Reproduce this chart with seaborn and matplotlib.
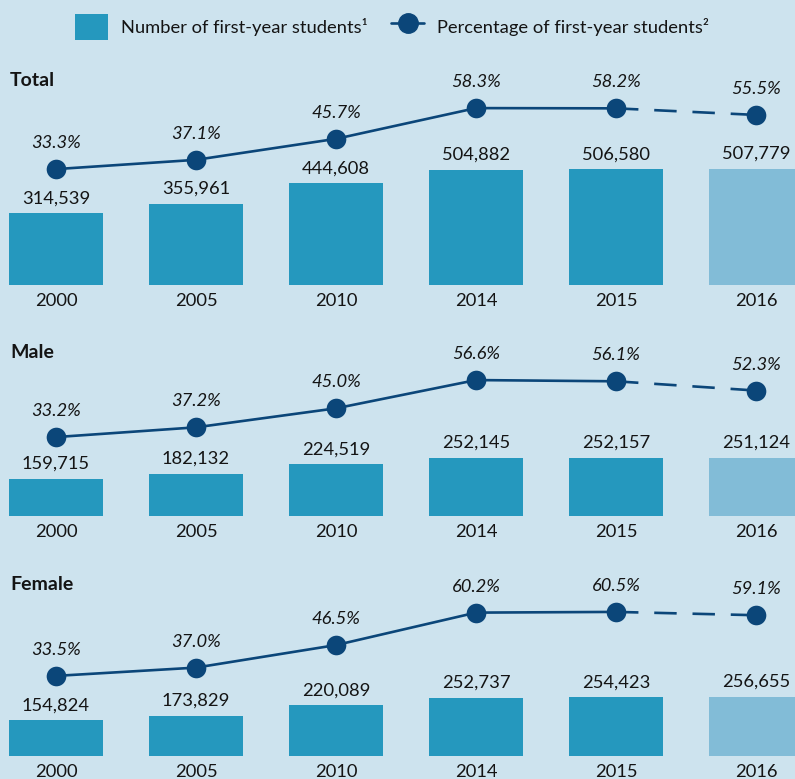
import numpy as np
import pandas as pd
import seaborn as sns
import matplotlib
matplotlib.use("Agg")
import matplotlib.pyplot as plt
from matplotlib.patches import Patch
from matplotlib.lines import Line2D

# ---- data ----
years = ["2000", "2005", "2010", "2014", "2015", "2016"]
total_students = [314539, 355961, 444608, 504882, 506580, 507779]
male_students = [159715, 182132, 224519, 252145, 252157, 251124]
female_students = [154824, 173829, 220089, 252737, 254423, 256655]
total_pct = [33.3, 37.1, 45.7, 58.3, 58.2, 55.5]
male_pct = [33.2, 37.2, 45.0, 56.6, 56.1, 52.3]
female_pct = [33.5, 37.0, 46.5, 60.2, 60.5, 59.1]
panel_titles = ["Total", "Male", "Female"]
legend_labels = ["Number of first-year students\u00b9", "Percentage of first-year students\u00b2"]

# ---- style ----
BG = "#cde3ee"
BAR = "#2598be"
BAR_LIGHT = "#82bcd7"
LINE = "#0b4679"
TXT = "#141414"
FONT = "Lato"
FS = 13.2

sns.set_theme(style="white")
plt.rcParams["font.family"] = [FONT, "DejaVu Sans"]

W, H = 795, 779
fig = plt.figure(figsize=(W / 100, H / 100), dpi=100, facecolor=BG)

# layout per panel (pixels): baseline, title y, bar px/unit, pct offset, pct px/pp
layouts = [
    dict(base=285, title=80, bscale=2.285e-4, p0=-14.2, pscale=2.44),
    dict(base=516, title=353, bscale=2.31e-4, p0=0.8, pscale=2.436),
    dict(base=756, title=585, bscale=2.31e-4, p0=-0.3, pscale=2.37),
]
AH = 240  # axes height in px
students = [total_students, male_students, female_students]
pcts = [total_pct, male_pct, female_pct]
palette = {y: (BAR_LIGHT if i == len(years) - 1 else BAR) for i, y in enumerate(years)}

for title, stud, pct, lay in zip(panel_titles, students, pcts, layouts):
    ax = fig.add_axes([0, 1 - lay["base"] / H, 1, AH / H])
    ax.set_facecolor("none")
    df = pd.DataFrame({"year": years, "students": stud})
    sns.barplot(data=df, x="year", y="students", hue="year", palette=palette,
                order=years, hue_order=years, legend=False, ax=ax,
                width=0.675, saturation=1, linewidth=0)
    ax.set_xlim(-56 / 140, (W - 56) / 140)
    ax.set_ylim(0, AH / lay["bscale"])
    xs = np.arange(len(years))
    for x, v in zip(xs, stud):
        ax.annotate(f"{v:,}", xy=(x, v), xytext=(0, 10.8), textcoords="offset points",
                    ha="center", va="center", fontsize=FS, color=TXT)
    ax.set_xlabel("")
    ax.set_ylabel("")
    ax.set_yticks([])
    ax.tick_params(axis="x", length=0, pad=5.5, labelsize=FS, labelcolor=TXT)
    for s in ax.spines.values():
        s.set_visible(False)

    ax2 = ax.twinx()
    ax2.set_facecolor("none")
    sns.lineplot(x=xs[:5], y=pct[:5], ax=ax2, color=LINE, linewidth=1.9)
    sns.lineplot(x=xs[4:], y=pct[4:], ax=ax2, color=LINE, linewidth=1.9,
                 linestyle=(0, (8.5, 6.0)))
    sns.scatterplot(x=xs, y=pct, ax=ax2, color=LINE, s=200, linewidth=0, zorder=5)
    ax2.set_ylim(lay["p0"], lay["p0"] + AH / lay["pscale"])
    ax2.set_xlim(ax.get_xlim())
    for x, v in zip(xs, pct):
        ax2.annotate(f"{v:.1f}%", xy=(x, v), xytext=(0, 18.7), textcoords="offset points",
                     ha="center", va="center", fontsize=FS, style="italic", color=TXT)
    ax2.set_yticks([])
    ax2.set_ylabel("")
    ax2.set_xlabel("")
    for s in ax2.spines.values():
        s.set_visible(False)

    fig.text(10 / W, 1 - lay["title"] / H, title, ha="left", va="center",
             fontsize=FS + 0.8, fontweight="bold", color=TXT)

handles = [Patch(facecolor=BAR, edgecolor="none"),
           Line2D([0], [0], color=LINE, lw=1.9, marker="o", markersize=14)]
fig.legend(handles=handles, labels=legend_labels, loc="center",
           bbox_to_anchor=(392 / W, 1 - 27 / H), ncol=2, frameon=False,
           fontsize=FS, handlelength=1.8, handleheight=1.8, handletextpad=0.7,
           columnspacing=1.3, labelcolor=TXT)

fig.savefig("out.png", dpi=100, facecolor=BG)
